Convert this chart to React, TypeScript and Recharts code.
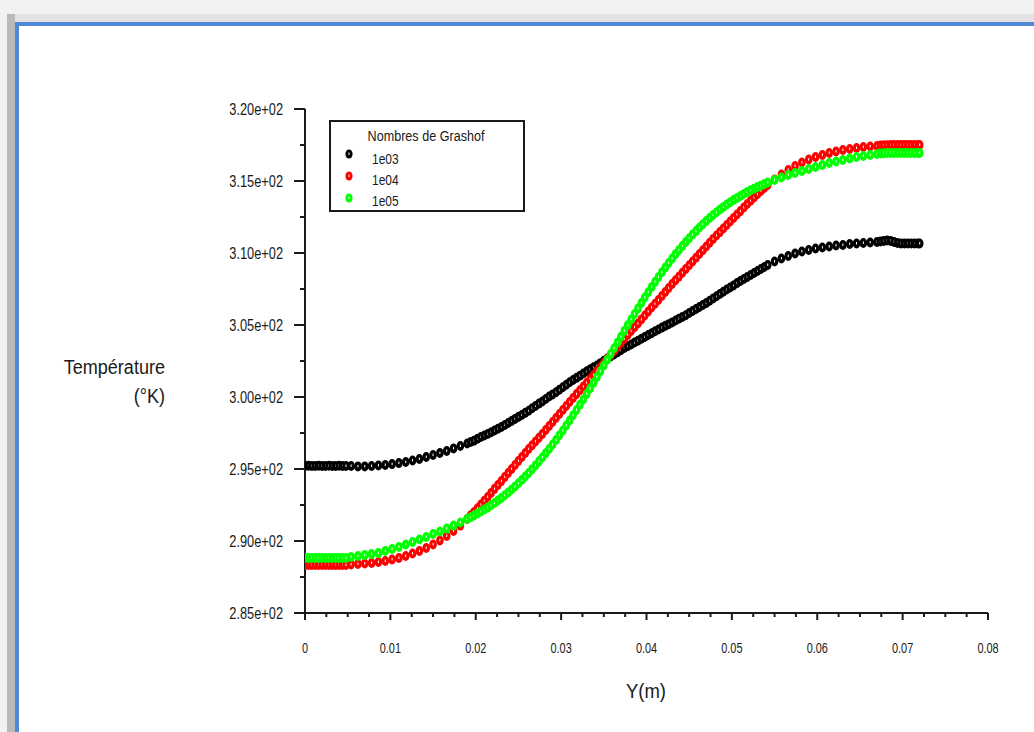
import React from 'react';
import { ScatterChart, Scatter, XAxis, YAxis } from 'recharts';

// Y position across the channel (m) — mesh nodes (finer in the core)
const positions = [
  0, 0.0004, 0.0008, 0.0012, 0.0016, 0.002, 0.0024, 0.0028, 0.0032, 0.0036, 0.004, 0.0044, 0.0048,
  0.0054, 0.0062, 0.007, 0.0078, 0.0086, 0.0094, 0.0102, 0.011,
  0.0118, 0.0126, 0.0134, 0.0142, 0.015, 0.0158, 0.0166, 0.0174, 0.0182,
  0.019, 0.0194, 0.0198, 0.0202, 0.0206, 0.021, 0.0214, 0.0218, 0.0222, 0.0226,
  0.023, 0.0234, 0.0238, 0.0242, 0.0246, 0.025, 0.0254, 0.0258, 0.0262, 0.0266,
  0.027, 0.0274, 0.0278, 0.0282, 0.0286, 0.029, 0.0294, 0.0298, 0.0302, 0.0306,
  0.031, 0.0314, 0.0318, 0.0322, 0.0326, 0.033, 0.0334, 0.0338, 0.0342, 0.0346,
  0.035, 0.0354, 0.0358, 0.0362, 0.0366, 0.037, 0.0374, 0.0378, 0.0382, 0.0386,
  0.039, 0.0394, 0.0398, 0.0402, 0.0406, 0.041, 0.0414, 0.0418, 0.0422, 0.0426,
  0.043, 0.0434, 0.0438, 0.0442, 0.0446, 0.045, 0.0454, 0.0458, 0.0462, 0.0466,
  0.047, 0.0474, 0.0478, 0.0482, 0.0486, 0.049, 0.0494, 0.0498, 0.0502, 0.0506,
  0.051, 0.0514, 0.0518, 0.0522, 0.0526, 0.053, 0.0534, 0.0538, 0.0542,
  0.055, 0.0558, 0.0566, 0.0574, 0.0582, 0.059, 0.0598, 0.0606, 0.0614, 0.0622, 0.063, 0.0638,
  0.0646, 0.0654, 0.0662, 0.067,
  0.0674, 0.0678, 0.0682, 0.0686, 0.069, 0.0694, 0.0698, 0.0702, 0.0706, 0.071, 0.0714, 0.0718, 0.072,
];

// Temperature (K), Grashof 1e03
const temp1e03 = [
  295.21, 295.22, 295.21, 295.21, 295.22, 295.21, 295.21, 295.22, 295.21, 295.21, 295.22, 295.21, 295.21,
  295.21, 295.18, 295.18, 295.21, 295.25, 295.28, 295.34, 295.41,
  295.48, 295.59, 295.69, 295.83, 295.97, 296.11, 296.25, 296.43, 296.6,
  296.77, 296.87, 296.97, 297.1, 297.22, 297.33, 297.43, 297.55, 297.67, 297.8,
  297.92, 298.06, 298.2, 298.34, 298.48, 298.62, 298.75, 298.9, 299.05, 299.22,
  299.38, 299.54, 299.69, 299.86, 300.03, 300.18, 300.33, 300.51, 300.68, 300.85,
  301.02, 301.18, 301.33, 301.48, 301.63, 301.78, 301.92, 302.06, 302.19, 302.35,
  302.51, 302.67, 302.82, 302.96, 303.1, 303.25, 303.4, 303.53, 303.65, 303.78,
  303.91, 304.04, 304.17, 304.3, 304.43, 304.56, 304.69, 304.82, 304.94, 305.06,
  305.18, 305.31, 305.43, 305.56, 305.68, 305.83, 305.97, 306.11, 306.25, 306.39,
  306.52, 306.68, 306.84, 307.0, 307.15, 307.31, 307.47, 307.61, 307.75, 307.91,
  308.06, 308.2, 308.33, 308.47, 308.61, 308.75, 308.89, 309.03, 309.17,
  309.41, 309.62, 309.79, 309.96, 310.1, 310.21, 310.31, 310.38, 310.45, 310.52, 310.56, 310.63,
  310.66, 310.7, 310.73, 310.77,
  310.8, 310.84, 310.87, 310.84, 310.77, 310.7, 310.66, 310.66, 310.66, 310.66, 310.66, 310.66, 310.66,
];

// Temperature (K), Grashof 1e04
const temp1e04 = [
  288.33, 288.33, 288.33, 288.33, 288.33, 288.33, 288.33, 288.33, 288.33, 288.33, 288.33, 288.33, 288.33,
  288.37, 288.4, 288.44, 288.47, 288.54, 288.61, 288.72, 288.82,
  288.96, 289.13, 289.3, 289.51, 289.76, 290.04, 290.35, 290.69, 291.07,
  291.53, 291.78, 292.02, 292.28, 292.53, 292.8, 293.06, 293.34, 293.62, 293.89,
  294.16, 294.44, 294.72, 295.0, 295.28, 295.56, 295.83, 296.11, 296.39, 296.65,
  296.91, 297.17, 297.43, 297.71, 297.99, 298.27, 298.54, 298.82, 299.1, 299.38,
  299.65, 299.93, 300.2, 300.47, 300.73, 300.99, 301.25, 301.53, 301.8, 302.08,
  302.36, 302.64, 302.92, 303.2, 303.47, 303.75, 304.03, 304.31, 304.59, 304.85,
  305.1, 305.38, 305.66, 305.94, 306.22, 306.48, 306.73, 307.01, 307.29, 307.57,
  307.85, 308.11, 308.36, 308.63, 308.89, 309.15, 309.41, 309.67, 309.93, 310.19,
  310.45, 310.72, 310.98, 311.22, 311.45, 311.7, 311.94, 312.19, 312.43, 312.67,
  312.91, 313.16, 313.4, 313.63, 313.85, 314.08, 314.31, 314.52, 314.72,
  315.1, 315.45, 315.77, 316.04, 316.28, 316.49, 316.67, 316.81, 316.95, 317.05, 317.15, 317.22,
  317.29, 317.36, 317.4, 317.43,
  317.47, 317.48, 317.49, 317.5, 317.5, 317.5, 317.5, 317.5, 317.5, 317.5, 317.5, 317.5, 317.5,
];

// Temperature (K), Grashof 1e05
const temp1e05 = [
  288.82, 288.82, 288.82, 288.82, 288.82, 288.82, 288.82, 288.82, 288.82, 288.82, 288.82, 288.82, 288.82,
  288.89, 288.96, 289.02, 289.09, 289.16, 289.3, 289.44, 289.58,
  289.76, 289.93, 290.11, 290.28, 290.49, 290.66, 290.86, 291.07, 291.28,
  291.53, 291.65, 291.77, 291.91, 292.05, 292.19, 292.32, 292.48, 292.64, 292.82,
  292.99, 293.18, 293.37, 293.58, 293.78, 294.01, 294.23, 294.48, 294.72, 294.99,
  295.25, 295.53, 295.8, 296.1, 296.39, 296.7, 297.01, 297.34, 297.67, 298.02,
  298.37, 298.74, 299.1, 299.47, 299.83, 300.21, 300.59, 300.99, 301.39, 301.79,
  302.19, 302.59, 302.99, 303.39, 303.78, 304.19, 304.59, 304.99, 305.38, 305.77,
  306.15, 306.53, 306.91, 307.28, 307.64, 307.99, 308.33, 308.66, 308.99, 309.31,
  309.62, 309.92, 310.21, 310.49, 310.77, 311.03, 311.28, 311.53, 311.77, 312.0,
  312.22, 312.43, 312.64, 312.83, 313.02, 313.2, 313.37, 313.53, 313.68, 313.82,
  313.96, 314.1, 314.24, 314.36, 314.47, 314.58, 314.68, 314.79, 314.89,
  315.07, 315.24, 315.42, 315.55, 315.69, 315.83, 315.97, 316.11, 316.25, 316.35, 316.46, 316.56,
  316.67, 316.74, 316.81, 316.88,
  316.91, 316.93, 316.95, 316.95, 316.95, 316.95, 316.95, 316.95, 316.95, 316.95, 316.95, 316.95, 316.95,
];

const seriesNames = ['1e03', '1e04', '1e05'];
const seriesColors = ['#000000', '#ff0000', '#00ff00'];
const seriesTemps = [temp1e03, temp1e04, temp1e05];

const legendTitle = 'Nombres de Grashof';
const xAxisTitle = 'Y(m)';
const yAxisTitleLines = ['Température', '(°K)'];

const xTickValues = [
  0, 0.0025, 0.005, 0.0075, 0.01, 0.0125, 0.015, 0.0175, 0.02, 0.0225, 0.025, 0.0275, 0.03,
  0.0325, 0.035, 0.0375, 0.04, 0.0425, 0.045, 0.0475, 0.05, 0.0525, 0.055, 0.0575, 0.06,
  0.0625, 0.065, 0.0675, 0.07, 0.0725, 0.075, 0.0775, 0.08,
];
const xTickLabels = ['0', '0.01', '0.02', '0.03', '0.04', '0.05', '0.06', '0.07', '0.08'];
const yTickValues = [285, 287.5, 290, 292.5, 295, 297.5, 300, 302.5, 305, 307.5, 310, 312.5, 315, 317.5, 320];
const yTickLabels = ['2.85e+02', '2.90e+02', '2.95e+02', '3.00e+02', '3.05e+02', '3.10e+02', '3.15e+02', '3.20e+02'];

const FONT = '"Liberation Sans", Arial, Helvetica, sans-serif';
const INK = '#1a1a1a';

const XTick = (props: any) => {
  const { x, y, payload } = props;
  const v = payload.value;
  const idx = Math.round(v * 100);
  const major = Math.abs(v * 100 - idx) < 1e-6;
  return (
    <g>
      <line x1={x} x2={x} y1={y} y2={y + (major ? 7 : 4)} stroke={INK} strokeWidth={2} />
      {major && (
        <text
          transform={`translate(${x},${y + 40}) scale(0.78,1)`}
          textAnchor="middle"
          fontSize={14}
          fontFamily={FONT}
          fill={INK}
        >
          {xTickLabels[idx]}
        </text>
      )}
    </g>
  );
};

const YTick = (props: any) => {
  const { x, y, payload } = props;
  const v = payload.value;
  const q = (v - 285) / 5;
  const idx = Math.round(q);
  const major = Math.abs(q - idx) < 1e-6;
  return (
    <g>
      <line x1={x - (major ? 11 : 5)} x2={x} y1={y} y2={y} stroke={INK} strokeWidth={2} />
      {major && (
        <text
          transform={`translate(${x - 22},${y + 5.5}) scale(0.8,1)`}
          textAnchor="end"
          fontSize={16}
          fontFamily={FONT}
          fill={INK}
        >
          {yTickLabels[idx]}
        </text>
      )}
    </g>
  );
};

const Marker = (color: string) => (props: any) => {
  const { cx, cy } = props;
  if (cx == null || cy == null) return <g />;
  return (
    <g>
      <ellipse cx={cx} cy={cy} rx={3.8} ry={5} fill={color} />
      <rect x={cx - 0.5} y={cy - 1.5} width={1} height={2.5} fill="#ffffff" />
    </g>
  );
};

export default function App() {
  const series = seriesNames.map((name, s) => ({
    name,
    color: seriesColors[s],
    data: positions.map((p, i) => ({ x: p, y: seriesTemps[s][i] })),
  }));

  return (
    <div style={{ position: 'absolute', left: 0, top: 0, width: 1034, height: 732, background: '#f1f1f1', overflow: 'hidden' }}>
      <div style={{ position: 'absolute', left: 7, top: 14, right: 0, bottom: 0, background: '#b9b9b9' }} />
      <div style={{ position: 'absolute', left: 15, top: 14, right: 0, height: 8, background: '#e2e2e2' }} />
      <div
        style={{
          position: 'absolute', left: 15, top: 22, right: 0, bottom: 0,
          background: '#ffffff', borderLeft: '4px solid #4d88d4', borderTop: '4px solid #4d88d4',
        }}
      />
      <div style={{ position: 'absolute', left: 0, top: 0 }}>
        <ScatterChart width={1034} height={732} margin={{ top: 109, right: 46, bottom: 79, left: 0 }}>
          <XAxis
            type="number"
            dataKey="x"
            domain={[0, 0.08]}
            ticks={xTickValues}
            interval={0}
            tickSize={0}
            tickMargin={0}
            tickLine={false}
            axisLine={{ stroke: INK, strokeWidth: 2 }}
            tick={<XTick />}
            height={40}
            allowDataOverflow
          />
          <YAxis
            type="number"
            dataKey="y"
            domain={[285, 320]}
            ticks={yTickValues}
            interval={0}
            tickSize={0}
            tickMargin={0}
            tickLine={false}
            axisLine={{ stroke: INK, strokeWidth: 2 }}
            tick={<YTick />}
            width={305}
            allowDataOverflow
          />
          {series.map((s) => (
            <Scatter
              key={s.name}
              name={s.name}
              data={s.data}
              fill={s.color}
              shape={Marker(s.color)}
              isAnimationActive={false}
            />
          ))}
        </ScatterChart>
      </div>

      <svg style={{ position: 'absolute', left: 0, top: 0, pointerEvents: 'none' }} width={1034} height={732}>
        <text transform="translate(165,374) scale(0.86,1)" textAnchor="end" fontSize={21} fontFamily={FONT} fill={INK}>
          {yAxisTitleLines[0]}
        </text>
        <text transform="translate(165,403) scale(0.86,1)" textAnchor="end" fontSize={21} fontFamily={FONT} fill={INK}>
          {yAxisTitleLines[1]}
        </text>
        <text transform="translate(646,698) scale(0.88,1)" textAnchor="middle" fontSize={21} fontFamily={FONT} fill={INK}>
          {xAxisTitle}
        </text>

        <rect x={330} y={121} width={194} height={90} fill="#ffffff" stroke={INK} strokeWidth={2} />
        <text transform="translate(426,141) scale(0.84,1)" textAnchor="middle" fontSize={15} fontFamily={FONT} fill={INK}>
          {legendTitle}
        </text>
        {series.map((s, i) => (
          <g key={s.name}>
            <ellipse cx={349} cy={154 + i * 22} rx={3.6} ry={4.6} fill={s.color} />
            <rect x={348.5} y={152.5 + i * 22} width={1} height={2.5} fill="#ffffff" />
            <text
              transform={`translate(372,${164 + i * 21}) scale(0.8,1)`}
              fontSize={15}
              fontFamily={FONT}
              fill={INK}
            >
              {s.name}
            </text>
          </g>
        ))}
      </svg>
    </div>
  );
}
